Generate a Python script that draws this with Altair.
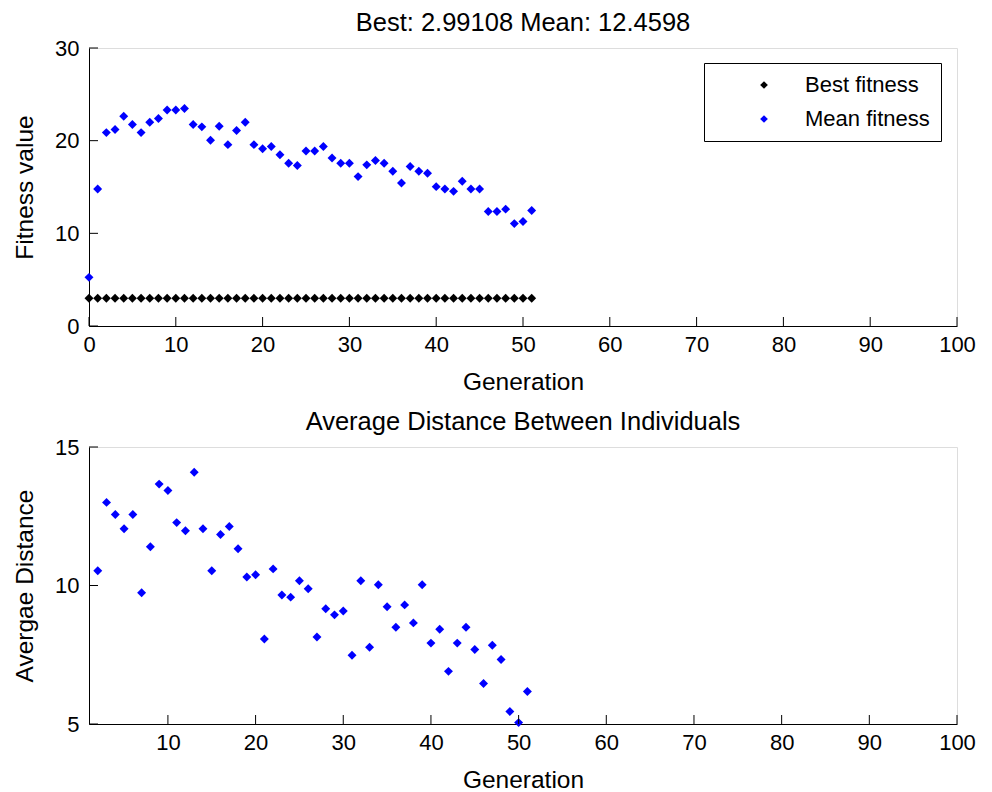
import altair as alt
import pandas as pd

# ---------------- data ----------------
gen_top = list(range(0, 52))
best_fitness = [2.99108, 2.99108, 2.99108, 2.99108, 2.99108, 2.99108, 2.99108, 2.99108,
                2.99108, 2.99108, 2.99108, 2.99108, 2.99108, 2.99108, 2.99108, 2.99108,
                2.99108, 2.99108, 2.99108, 2.99108, 2.99108, 2.99108, 2.99108, 2.99108,
                2.99108, 2.99108, 2.99108, 2.99108, 2.99108, 2.99108, 2.99108, 2.99108,
                2.99108, 2.99108, 2.99108, 2.99108, 2.99108, 2.99108, 2.99108, 2.99108,
                2.99108, 2.99108, 2.99108, 2.99108, 2.99108, 2.99108, 2.99108, 2.99108,
                2.99108, 2.99108, 2.99108, 2.99108]
mean_fitness = [5.25, 14.78, 20.87, 21.2, 22.64, 21.74, 20.87, 21.99, 22.39, 23.3,
                23.3, 23.48, 21.74, 21.49, 20.04, 21.56, 19.57, 21.09, 21.99, 19.57,
                19.13, 19.38, 18.48, 17.57, 17.32, 18.88, 18.88, 19.38, 18.12, 17.57,
                17.57, 16.12, 17.39, 17.86, 17.57, 16.7, 15.43, 17.21, 16.7, 16.49,
                15.04, 14.78, 14.53, 15.62, 14.78, 14.78, 12.36, 12.36, 12.61, 11.05,
                11.27, 12.46]

gen_bottom = list(range(2, 52))
avg_distance = [10.53, 13.0, 12.56, 12.05, 12.56, 9.74, 11.4, 13.66, 13.43, 12.27,
                11.98, 14.09, 12.05, 10.53, 11.84, 12.13, 11.33, 10.31, 10.39, 8.07,
                10.6, 9.66, 9.58, 10.17, 9.88, 8.14, 9.16, 8.94, 9.08, 7.48,
                10.17, 7.77, 10.03, 9.23, 8.49, 9.3, 8.65, 10.03, 7.92, 8.42,
                6.9, 7.92, 8.49, 7.69, 6.46, 7.84, 7.33, 5.45, 5.05, 6.17]

top_x_ticks = [0, 10, 20, 30, 40, 50, 60, 70, 80, 90, 100]
top_y_ticks = [0, 10, 20, 30]
bottom_x_ticks = [10, 20, 30, 40, 50, 60, 70, 80, 90, 100]
bottom_y_ticks = [5, 10, 15]

series_names = ["Best fitness", "Mean fitness"]
series_colors = ["black", "blue"]

top_title = "Best: 2.99108 Mean: 12.4598"
bottom_title = "Average Distance Between Individuals"

# ---------------- style ----------------
W, H = 868, 278
H2 = 277
FONT = "Liberation Sans"
FS = 22        # tick labels, legend
FS_AXT = 24.5  # axis titles
FS_T = 25.5    # chart titles
TICK = 9

top_df = pd.DataFrame({
    "Generation": gen_top + gen_top,
    "value": best_fitness + mean_fitness,
    "series": [series_names[0]] * len(gen_top) + [series_names[1]] * len(gen_top),
})
bottom_df = pd.DataFrame({"Generation": gen_bottom, "value": avg_distance})


def xaxis(values, title):
    return alt.Axis(values=values, title=title, tickSize=0, grid=False,
                    labelFont=FONT, titleFont=FONT, labelFontSize=FS, titleFontSize=FS_AXT,
                    labelColor="black", titleColor="black", domainColor="black",
                    titleFontWeight="normal", labelFlush=False, labelPadding=8,
                    titlePadding=15, format="d", labelOverlap=False)


def yaxis(values, title):
    return alt.Axis(values=values, title=title, tickSize=0, grid=False,
                    labelFont=FONT, titleFont=FONT, labelFontSize=FS,
                    titleFontSize=FS_AXT, labelColor="black", titleColor="black",
                    domainColor="black", titleFontWeight="normal",
                    labelPadding=10, titlePadding=17, format="d", labelFlush=False)


def panel(df, xticks, yticks, xdom, ydom, ytitle, title, h, color_enc=None):
    xs = alt.Scale(domain=xdom, nice=False, zero=False)
    ys = alt.Scale(domain=ydom, nice=False, zero=False)
    xa = xaxis(xticks, "Generation")
    ya = yaxis(yticks, ytitle)
    enc = dict(
        x=alt.X("Generation:Q", scale=xs, axis=xa),
        y=alt.Y("value:Q", scale=ys, axis=ya),
    )
    if color_enc is not None:
        enc["color"] = color_enc
    else:
        enc["color"] = alt.value("blue")
    pts = alt.Chart(df).mark_point(shape="diamond", filled=True, size=80, opacity=1).encode(**enc)

    xt = alt.Chart(pd.DataFrame({"Generation": xticks})).mark_rule(color="black").encode(
        x=alt.X("Generation:Q", scale=xs, axis=xa),
        y=alt.value(h), y2=alt.value(h - TICK))
    yt = alt.Chart(pd.DataFrame({"value": yticks})).mark_rule(color="black").encode(
        y=alt.Y("value:Q", scale=ys, axis=ya),
        x=alt.value(0), x2=alt.value(TICK))
    return alt.layer(pts, xt, yt).properties(
        width=W, height=h,
        title=alt.TitleParams(title, font=FONT, fontSize=FS_T, fontWeight="normal",
                              color="black", offset=1))


color_enc = alt.Color("series:N",
                      scale=alt.Scale(domain=series_names, range=series_colors),
                      legend=alt.Legend(orient="none", legendX=615, legendY=15, title=None,
                                        strokeColor="black", fillColor="white",
                                        padding=11, symbolOffset=38, labelOffset=30,
                                        labelFont=FONT, labelFontSize=FS, labelColor="black",
                                        rowPadding=12, symbolType="diamond", symbolSize=60))

top = panel(top_df, top_x_ticks, top_y_ticks, [0, 100], [0, 30], "Fitness value",
            top_title, H, color_enc)
bottom = panel(bottom_df, bottom_x_ticks, bottom_y_ticks, [1, 100], [5, 15],
               "Avergae Distance", bottom_title, H2)

chart = alt.vconcat(top, bottom, spacing=15).properties(
    padding={"left": 4, "top": 2, "right": 5, "bottom": 0}
).configure_view(stroke="transparent", strokeWidth=0).configure(background="white")

chart.save("out.html", embed_options={"renderer": "svg", "actions": False})
